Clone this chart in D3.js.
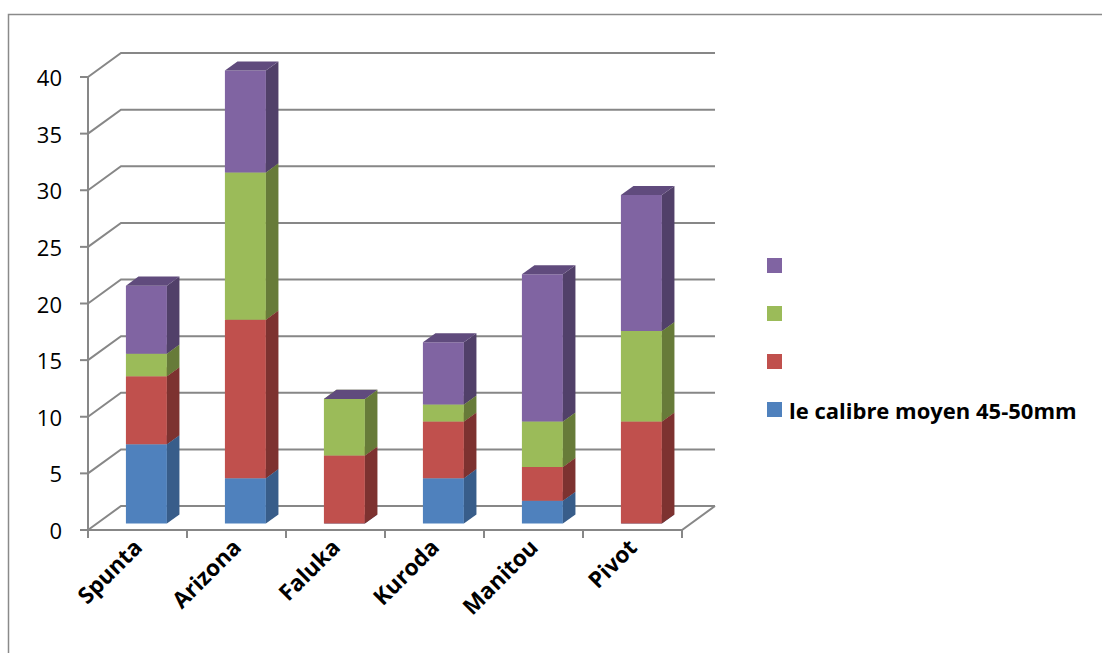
<!DOCTYPE html>
<html><head><meta charset="utf-8">
<script src="https://cdn.jsdelivr.net/npm/d3@7"></script>
<style>html,body{margin:0;padding:0;background:#fff;}svg{display:block;}</style>
</head><body>
<script>
const categories = ["Spunta","Arizona","Faluka","Kuroda","Manitou","Pivot"];
const seriesNames = ["le calibre moyen 45-50mm","","",""];
const blueVals   = [7, 4, 0, 4, 2, 0];
const redVals    = [6, 14, 6, 5, 3, 9];
const greenVals  = [2, 13, 5, 1.5, 4, 8];
const purpleVals = [6, 9, 0, 5.5, 13, 12];
const yTicks = [0,5,10,15,20,25,30,35,40];
const frontColors = ["#4F81BD","#C0504D","#9BBB59","#8064A2"];
const sideColors  = ["#385D8A","#7D3230","#677B39","#514069"];
const topColors   = ["#44709F","#A2423F","#82A049","#604B7D"];

const W = 1102, H = 653;
const svg = d3.select("body").append("svg").attr("width", W).attr("height", H);
const font = "'Open Sans', 'Liberation Sans', sans-serif";
const grid = "#878787";

// border
svg.append("rect").attr("x",8.5).attr("y",14.5).attr("width",W).attr("height",H)
  .attr("fill","none").attr("stroke","#8a8a8a").attr("stroke-width",1.5);

const x = d3.scaleBand().domain(categories).range([88, 682]).padding(0);
const y = d3.scaleLinear().domain([0, 40]).range([530, 77]);
const DX = 33, DY = -24; // full depth offset
const proj = (px, py, f) => [px + DX*f, py + DY*f];

// side wall & back wall gridlines
const g = svg.append("g");
yTicks.forEach(t => {
  const p0 = [x.range()[0], y(t)];
  const p1 = proj(p0[0], p0[1], 1);
  const p2 = [x.range()[1] + DX, p1[1]];
  g.append("polyline").attr("points", [p0, p1, p2].map(p => p.join(",")).join(" "))
    .attr("fill","none").attr("stroke",grid).attr("stroke-width",2);
  g.append("line").attr("x1", p0[0]-8).attr("x2", p0[0]).attr("y1", p0[1]).attr("y2", p0[1])
    .attr("stroke",grid).attr("stroke-width",2);
  g.append("text").attr("x", 62).attr("y", p0[1]).attr("text-anchor","end")
    .attr("dominant-baseline","central").attr("font-family",font).attr("font-size",22)
    .attr("fill","#000").text(t);
});
// vertical axis line
g.append("line").attr("x1",x.range()[0]).attr("x2",x.range()[0]).attr("y1",y(40)).attr("y2",y(0))
  .attr("stroke",grid).attr("stroke-width",2);
// floor front + right edge
{
  const a = [x.range()[0], y(0)], b = [x.range()[1], y(0)], c = proj(b[0], b[1], 1);
  g.append("polyline").attr("points", [a,b,c].map(p=>p.join(",")).join(" "))
    .attr("fill","none").attr("stroke",grid).attr("stroke-width",2);
}
// category ticks
categories.concat([null]).forEach((c, i) => {
  const px = x.range()[0] + i * x.bandwidth();
  g.append("line").attr("x1",px).attr("x2",px).attr("y1",y(0)).attr("y2",y(0)+8)
    .attr("stroke",grid).attr("stroke-width",2);
});

// bars
const series = [blueVals, redVals, greenVals, purpleVals];
const stack = d3.stack().keys([0,1,2,3]).value((d, k) => series[k][d])(d3.range(categories.length));
const f0 = 0.27, f1 = 0.65;
const bw = x.bandwidth() * 0.414;
const bars = svg.append("g");
categories.forEach((cat, ci) => {
  const left = x(cat) + (x.bandwidth() - bw) / 2;
  const right = left + bw;
  stack.forEach((layer, si) => {
    const [v0, v1] = layer[ci];
    const yb = y(v0), yt = y(v1);
    const A = proj(left, yb, f0), B = proj(right, yb, f0), C = proj(right, yt, f0), D = proj(left, yt, f0);
    const B2 = proj(right, yb, f1), C2 = proj(right, yt, f1), D2 = proj(left, yt, f1);
    const pts = a => a.map(p => p.join(",")).join(" ");
    bars.append("polygon").attr("points", pts([A,B,C,D])).attr("fill", frontColors[si]);
    bars.append("polygon").attr("points", pts([B,B2,C2,C])).attr("fill", sideColors[si]);
    bars.append("polygon").attr("points", pts([D,C,C2,D2])).attr("fill", topColors[si]);
  });
});

// category labels
categories.forEach(cat => {
  const cx = x(cat) + x.bandwidth()/2 + 6;
  svg.append("text").attr("transform", `translate(${cx},549) rotate(-45)`)
    .attr("text-anchor","end").attr("font-family",font).attr("font-weight","bold")
    .attr("font-size",22.5).attr("fill","#000").text(cat);
});

// legend (top to bottom: purple, green, red, blue)
const legendOrder = [3,2,1,0];
legendOrder.forEach((si, i) => {
  const cy = 265 + i * 48;
  svg.append("rect").attr("x",767).attr("y",cy-7).attr("width",15).attr("height",15).attr("fill",frontColors[si]);
  svg.append("text").attr("x",789).attr("y",cy+1).attr("dominant-baseline","central")
    .attr("font-family",font).attr("font-weight","bold").attr("font-size",22).attr("fill","#000")
    .text(seriesNames[si]);
});
</script>
</body></html>
